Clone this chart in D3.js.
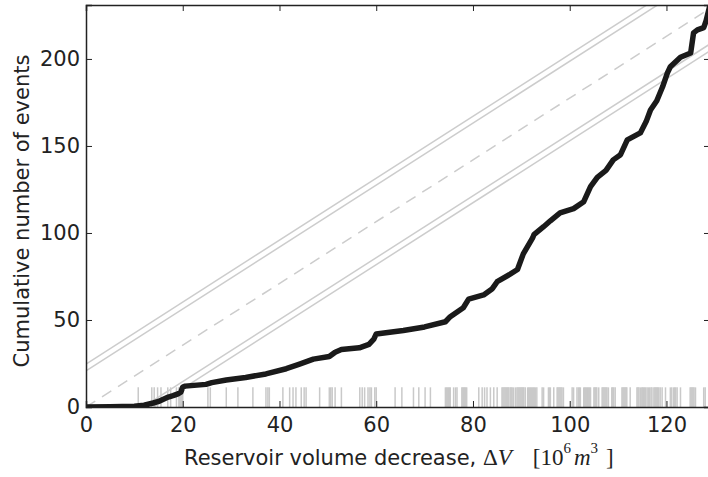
<!DOCTYPE html>
<html>
<head>
<meta charset="utf-8">
<script src="https://cdn.jsdelivr.net/npm/d3@7"></script>
<style>
  html, body { margin: 0; padding: 0; background: #fff; }
  svg { display: block; }
  text { font-family: "DejaVu Sans", sans-serif; fill: #222; }
</style>
</head>
<body>
<svg id="chart" width="708" height="477"></svg>
<script>
// ---- data ----
const xTicks = [0, 20, 40, 60, 80, 100, 120];
const yTicks = [0, 50, 100, 150, 200];
const xDomain = [0, 129];
const yDomain = [0, 231];

// cumulative number of events vs. volume decrease
const curveV = [0, 5, 10, 12, 13.9, 15, 16, 17, 18, 19, 19.6, 20, 20.5, 24.8, 26, 29, 33, 37.2, 41.4, 44, 47, 50.3, 51.5, 52.8, 56.5, 58.5, 59.5, 60, 65.6, 70, 74.3, 75.3, 78, 79.1, 82.2, 84, 85, 87.5, 89.2, 90.4, 92.3, 92.6, 94.6, 96, 98, 100.8, 102.9, 104.3, 105.7, 107.5, 109, 110.5, 111.9, 114.6, 115.8, 116.7, 118, 119.2, 120.2, 120.8, 122.9, 125, 125.6, 126.4, 127.7, 128.2, 129];
const curveN = [0, 0.1, 0.4, 1, 2.3, 3.2, 4.5, 5.7, 6.5, 7.5, 8.5, 11.5, 12, 13, 14, 15.5, 17, 19, 22, 24.5, 27.5, 29, 31.5, 33, 34, 36, 39, 42, 44, 46, 49, 51.9, 57, 62, 64.4, 68, 72, 76, 79, 88, 97, 99, 103.6, 107, 111.5, 114, 118, 126.6, 132, 136, 142, 145, 153.5, 157.5, 164, 170.7, 176, 184, 192, 195.5, 201, 203.4, 215, 216.7, 218, 222, 231];

// reference lines (endpoints)
const expectedLine = [[0, 0], [129, 229]];
const upperOuter = [[0, 24.7], [129, 254.3]];
const upperInner = [[0, 20.7], [129, 250.3]];
const lowerInner = [[0, -21], [129, 208.6]];
const lowerOuter = [[0, -25], [129, 204.6]];

// individual events (rug)
const events = [
  10.8, 13.6, 14.1, 14.8, 15.5, 16.9, 17.5, 18.7, 19.2, 19.4, 19.6, 19.8, 20.0,
  25.2, 25.7, 29.0, 31.4, 34.5, 37.2, 37.6, 37.9, 40.7, 42.1, 42.8, 43.4, 44.5, 45.1, 45.5, 48.3, 50.3, 50.6, 50.9, 51.5, 52.8, 56.6, 57.1, 57.6, 58.3, 58.7, 59.0, 59.7, 60.0,
  63.9, 65.3, 67.7, 68.8, 70.1, 71.2, 74.3, 74.5, 74.7, 74.9, 75.1, 75.3, 76.0, 76.4, 76.7, 77.7, 77.9, 78.1, 78.3, 78.5, 78.7,
  81.2, 81.9, 82.4, 82.9, 83.6, 84.3, 85.0, 86.0, 86.2, 86.4, 86.6, 86.8, 87.0, 87.2, 87.4, 87.7, 87.9, 88.1, 88.4, 88.8, 89.1, 89.3, 89.5, 89.7, 89.9, 90.1, 90.3, 90.5, 90.8,
  91.3, 91.5, 91.7, 91.9, 92.1, 92.3, 92.5, 92.7, 92.9, 93.2, 94.3, 94.6, 95.6, 95.8, 96.0, 96.7, 97.4, 97.6, 97.8, 98.0, 98.2, 98.4, 98.7,
  100.5, 100.8, 101.5, 101.8, 102.0, 102.2, 102.9, 103.1, 103.3, 103.5, 103.7, 103.9, 104.1, 104.3, 105.0, 105.2, 105.4, 105.6, 106.0, 106.7, 106.9, 107.1, 107.3, 107.5, 107.7, 108.0, 108.7, 108.9, 109.1, 109.4,
  110.8, 111.0, 111.2, 111.4, 111.6, 111.8, 112.5, 113.9, 114.1, 114.3, 114.6, 114.9, 115.1, 115.3, 115.5, 115.7, 116.0, 116.3, 116.5, 116.8, 117.0, 117.4, 117.6, 117.8, 118.0, 118.2, 118.4, 118.7, 119.1, 119.8, 120.8, 121.1, 121.5, 121.7, 121.9, 122.2, 122.9, 124.9, 125.1, 125.3, 125.5, 125.7, 126.0, 127.7, 128.0
];
const rugHeight = 11.3;

// ---- layout ----
const svg = d3.select("#chart");
const mLeft = 86, mRight = 710, mTop = 5, mBottom = 407;
const x = d3.scaleLinear().domain(xDomain).range([mLeft, mRight]);
const y = d3.scaleLinear().domain(yDomain).range([mBottom, mTop]);

svg.append("defs").append("clipPath").attr("id", "clip")
  .append("rect").attr("x", mLeft).attr("y", mTop)
  .attr("width", mRight - mLeft).attr("height", mBottom - mTop);

const plot = svg.append("g").attr("clip-path", "url(#clip)");

// rug
plot.append("g").selectAll("line").data(events).join("line")
  .attr("x1", d => x(d)).attr("x2", d => x(d))
  .attr("y1", y(0)).attr("y2", y(rugHeight))
  .attr("stroke", "#c9c9c9").attr("stroke-width", 1.5);

const line = d3.line().x(d => x(d[0])).y(d => y(d[1]));

[upperOuter, upperInner, lowerInner, lowerOuter].forEach(l => {
  plot.append("path").attr("d", line(l))
    .attr("fill", "none").attr("stroke", "#cccccc").attr("stroke-width", 1.5);
});
plot.append("path").attr("d", line(expectedLine))
  .attr("fill", "none").attr("stroke", "#cccccc").attr("stroke-width", 1.5)
  .attr("stroke-dasharray", "11,8");

// cumulative curve
const curvePts = curveV.map((v, i) => [v, curveN[i]]);
plot.append("path").attr("d", line(curvePts))
  .attr("fill", "none").attr("stroke", "#1a1a1a").attr("stroke-width", 5.5)
  .attr("stroke-linejoin", "round").attr("stroke-linecap", "round");

// axes (ticks inward)
const axisColor = "#222";
const gB = svg.append("g").attr("transform", `translate(0,${mBottom})`)
  .call(d3.axisBottom(x).tickValues(xTicks).tickSize(-6).tickPadding(10).tickFormat(d3.format("d")));
const gT = svg.append("g").attr("transform", `translate(0,${mTop})`)
  .call(d3.axisTop(x).tickValues(xTicks).tickSize(-6).tickFormat(""));
const gL = svg.append("g").attr("transform", `translate(${mLeft},0)`)
  .call(d3.axisLeft(y).tickValues(yTicks).tickSize(-6).tickPadding(6).tickFormat(d3.format("d")));
const gR = svg.append("g").attr("transform", `translate(${mRight},0)`)
  .call(d3.axisRight(y).tickValues(yTicks).tickSize(-6).tickFormat(""));

[gB, gT, gL, gR].forEach(g => {
  g.select(".domain").attr("stroke", axisColor).attr("stroke-width", 1.5);
  g.selectAll(".tick line").attr("stroke", axisColor).attr("stroke-width", 1);
  g.selectAll(".tick text").attr("fill", "#222")
    .style("font-family", "'DejaVu Sans', sans-serif").style("font-size", "21px");
});

// axis titles
svg.append("text")
  .attr("transform", `translate(29,${(mTop + mBottom) / 2 + 5}) rotate(-90)`)
  .attr("text-anchor", "middle").style("font-size", "21px")
  .text("Cumulative number of events");

const xt = svg.append("text").attr("x", 184).attr("y", 465)
  .attr("text-anchor", "start").style("font-size", "21px");
xt.append("tspan").text("Reservoir volume decrease, ");
const serif = "'Liberation Serif', 'DejaVu Serif', serif";
xt.append("tspan").style("font-family", serif).style("font-size", "23px").text("Δ");
xt.append("tspan").style("font-family", serif).style("font-style", "italic").style("font-size", "23px").text("V");
xt.append("tspan").style("font-family", serif).style("font-size", "23px").attr("dx", 21).text("[10");
xt.append("tspan").style("font-family", serif).style("font-size", "15px").attr("dy", -12).text("6");
xt.append("tspan").style("font-family", serif).style("font-style", "italic").style("font-size", "23px").attr("dy", 12).attr("dx", 3).text("m");
xt.append("tspan").style("font-family", serif).style("font-size", "15px").attr("dy", -12).text("3");
xt.append("tspan").style("font-family", serif).style("font-size", "23px").attr("dy", 12).attr("dx", 8).text("]");
</script>
</body>
</html>
